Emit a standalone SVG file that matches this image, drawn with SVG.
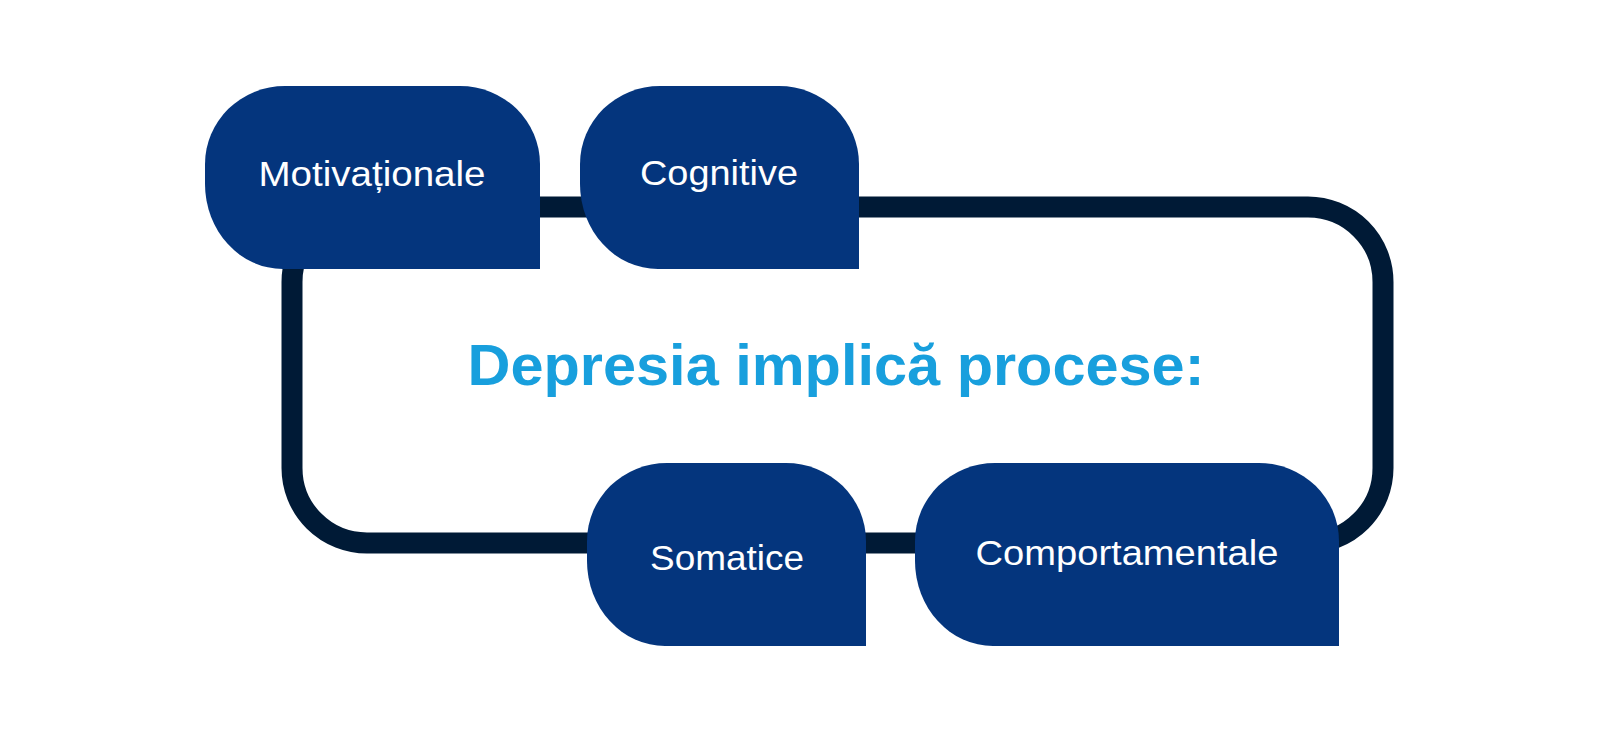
<svg xmlns="http://www.w3.org/2000/svg" width="1600" height="734" viewBox="0 0 1600 734">
<style>
.node{fill:#04357d}
.lbl{font-family:"Liberation Sans",Arial,sans-serif;font-size:35px;fill:#ffffff;text-anchor:middle}
.title{font-family:"Liberation Sans",Arial,sans-serif;font-size:58px;font-weight:bold;fill:#189fdd;text-anchor:middle}
.conn{fill:none;stroke:#001a36;stroke-width:21}
</style>
<rect width="1600" height="734" fill="#ffffff"/>
<g id="connectors">
<path class="conn" d="M367,207 H1308 A75,75 0 0 1 1383,282 V468 A75,75 0 0 1 1308,543 H367 A75,75 0 0 1 292,468 V282 A75,75 0 0 1 367,207 Z"/>
</g>
<g id="title">
<text class="title" x="836" y="385" textLength="737" lengthAdjust="spacingAndGlyphs">Depresia implică procese:</text>
</g>
<g id="node-motivationale">
<path class="node" d="M285,86 H460 A80,78 0 0 1 540,164 V269 H283 A78,85 0 0 1 205,184 V164 A80,78 0 0 1 285,86 Z"/>
<text class="lbl" x="372" y="186" textLength="227" lengthAdjust="spacingAndGlyphs">Motivaționale</text>
</g>
<g id="node-cognitive">
<path class="node" d="M660,86 H779 A80,78 0 0 1 859,164 V269 H658 A78,85 0 0 1 580,184 V164 A80,78 0 0 1 660,86 Z"/>
<text class="lbl" x="719" y="185" textLength="158" lengthAdjust="spacingAndGlyphs">Cognitive</text>
</g>
<g id="node-somatice">
<path class="node" d="M667,463 H786 A80,78 0 0 1 866,541 V646 H665 A78,85 0 0 1 587,561 V541 A80,78 0 0 1 667,463 Z"/>
<text class="lbl" x="727" y="570" textLength="154" lengthAdjust="spacingAndGlyphs">Somatice</text>
</g>
<g id="node-comportamentale">
<path class="node" d="M995,463 H1259 A80,78 0 0 1 1339,541 V646 H993 A78,85 0 0 1 915,561 V541 A80,78 0 0 1 995,463 Z"/>
<text class="lbl" x="1127" y="565" textLength="303" lengthAdjust="spacingAndGlyphs">Comportamentale</text>
</g>
</svg>
